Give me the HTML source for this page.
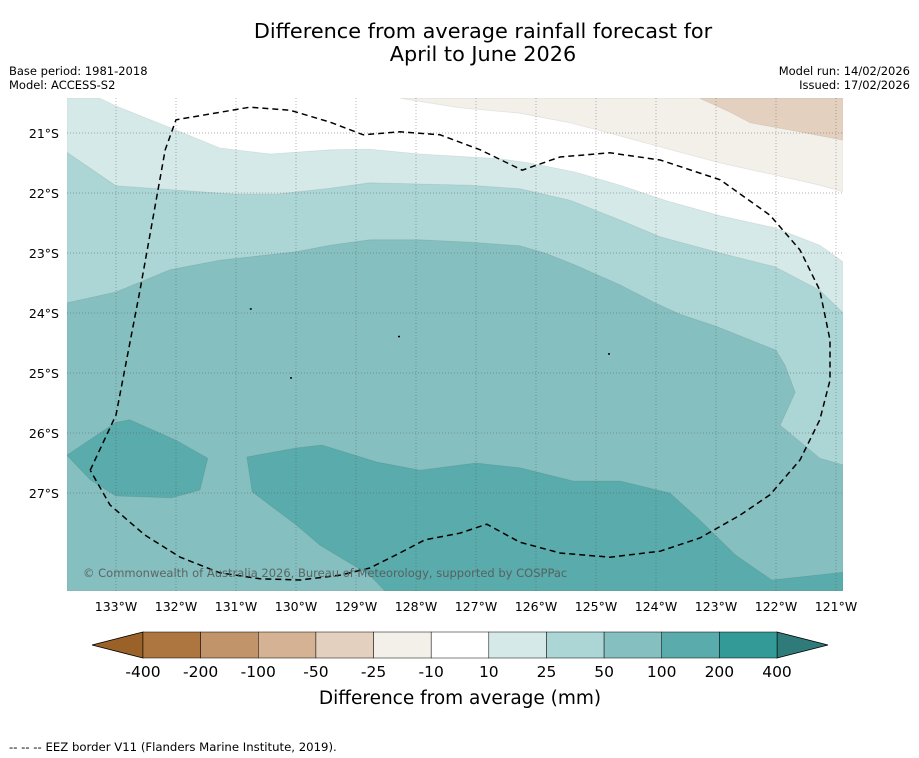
<!DOCTYPE html>
<html><head><meta charset="utf-8">
<style>
body{margin:0;background:#fff;width:919px;height:758px;overflow:hidden;font-family:"DejaVu Sans","Liberation Sans",sans-serif;}
svg{display:block}
</style></head>
<body>
<svg id="chart" width="919" height="758" viewBox="0 0 919 758" xmlns="http://www.w3.org/2000/svg" font-family="DejaVu Sans, Liberation Sans, sans-serif">
<text x="483" y="38" font-size="20.8" text-anchor="middle">Difference from average rainfall forecast for</text>
<text x="483" y="61" font-size="20.8" text-anchor="middle">April to June 2026</text>
<text x="9" y="75" font-size="11.5">Base period: 1981-2018</text>
<text x="9" y="89" font-size="11.5">Model: ACCESS-S2</text>
<text x="910" y="75" font-size="11.5" text-anchor="end">Model run: 14/02/2026</text>
<text x="910" y="89" font-size="11.5" text-anchor="end">Issued: 17/02/2026</text>
<defs><clipPath id="mapclip"><rect x="67" y="98" width="776" height="493"/></clipPath></defs>
<g id="map" clip-path="url(#mapclip)">
<rect x="67" y="98" width="776" height="493" fill="#ffffff"/>
</g>
<g id="axes"></g>
<g id="cbar"></g>
<text x="460" y="704" font-size="18.5" text-anchor="middle">Difference from average (mm)</text>
<text x="9" y="751" font-size="11.7">--  --  -- EEZ border V11 (Flanders Marine Institute, 2019).</text>
</svg>
<script>
// Longitude in degrees W, latitude in degrees S
const lonTicks = [133,132,131,130,129,128,127,126,125,124,123,122,121];
const latTicks = [21,22,23,24,25,26,27];
const cbarLevels = ["-400","-200","-100","-50","-25","-10","10","25","50","100","200","400"];
const cbarColors = ["#ad7640","#c1946a","#d4b293","#e4d0be","#f3efe9","#ffffff","#d5e9e8","#acd5d5","#85bfbf","#5aabab","#339a98"];

const contour10 = [[133.82,20.42],[133.27,20.42],[133,20.55],[132,20.95],[131.27,21.25],[130.43,21.35],[129.43,21.28],[128.77,21.27],[127.93,21.35],[126.6,21.43],[126.1,21.5],[125.35,21.65],[124.6,21.87],[123.85,22.12],[122.93,22.38],[122.02,22.58],[121.27,22.87],[120.88,23.15],[120.88,28.63],[133.82,28.63]];
const contour25 = [[133.82,21.32],[133,21.88],[132,21.95],[131,22.02],[130.33,22.02],[129.43,21.92],[128.77,21.83],[127.93,21.85],[127.1,21.87],[126.27,21.93],[125.43,22.12],[124.6,22.45],[123.93,22.73],[122.93,23],[122.02,23.23],[121.27,23.62],[120.88,24],[120.88,28.63],[133.82,28.63]];
const contour50 = [[133.82,23.83],[133,23.65],[132.1,23.28],[131.27,23.12],[130,22.98],[129.43,22.87],[128.77,22.78],[127.93,22.78],[127.1,22.82],[126.27,22.88],[125.85,23],[125.35,23.2],[124.6,23.53],[124.02,23.83],[123.6,24.02],[123,24.22],[122,24.62],[121.85,24.87],[121.68,25.32],[121.93,25.87],[121.27,26.42],[120.88,26.53],[120.88,28.63],[133.82,28.63]];
const contour100a = [[133.82,26.37],[133,25.82],[132.77,25.78],[132,26.12],[131.47,26.42],[131.6,26.95],[132.07,27.08],[133,27.05],[133.43,26.78]];
const contour100b = [[130.82,26.4],[130,26.25],[129.57,26.2],[128.67,26.48],[127.93,26.62],[127,26.5],[126.27,26.58],[125.38,26.8],[124.6,26.8],[123.77,27],[123.27,27.45],[122.68,28.03],[122.07,28.45],[120.88,28.32],[120.88,28.63],[128.52,28.63],[128.77,28.37],[129.6,27.87],[130,27.53],[130.73,26.98]];
const contourNeg10 = [[128.27,20.42],[127.27,20.58],[126.27,20.67],[125.43,20.83],[124.6,21.05],[123.6,21.32],[122.93,21.5],[122.02,21.7],[121.27,21.87],[120.88,21.98],[120.88,20.42]];
const contourNeg25 = [[123.27,20.42],[122.77,20.65],[122.43,20.83],[121.77,20.95],[120.88,21.12],[120.88,20.42]];
const eezBorder = [[133.43,26.62],[133,25.7],[132.6,23.62],[132.18,21.28],[132,20.78],[130.77,20.57],[130.1,20.62],[129.43,20.82],[128.88,21.03],[128.27,20.98],[127.6,21.03],[126.93,21.28],[126.23,21.62],[125.6,21.4],[124.77,21.33],[123.93,21.45],[122.93,21.78],[122.1,22.37],[121.6,22.95],[121.27,23.62],[121.1,24.45],[121.1,25.12],[121.27,25.78],[121.6,26.45],[122.1,27.03],[122.6,27.37],[123.27,27.75],[123.93,27.97],[124.77,28.07],[125.6,28],[126.27,27.82],[126.82,27.52],[127.27,27.67],[127.85,27.78],[128.27,28],[128.77,28.25],[129.27,28.37],[129.93,28.45],[130.6,28.43],[131.27,28.33],[131.93,28.07],[132.52,27.7],[133.1,27.2],[133.43,26.62]];
const islands = [[130.77,23.92],[128.3,24.38],[124.8,24.67],[130.1,25.07]];

const NS = "http://www.w3.org/2000/svg";
const xOf = lonW => 116 + (133 - lonW) * 60;
const yOf = latS => 133 + (latS - 21) * 60;
const pts = arr => arr.map(p => xOf(p[0]).toFixed(1) + "," + yOf(p[1]).toFixed(1)).join(" ");
const map = document.getElementById("map");
function poly(arr, fill, name) {
  const el = document.createElementNS(NS, "polygon");
  el.setAttribute("points", pts(arr));
  el.setAttribute("fill", fill);
  el.setAttribute("stroke", "rgba(0,0,0,0.08)");
  el.setAttribute("stroke-width", "0.8");
  
  
  map.appendChild(el);
}
poly(contour10, "#d5e9e8", "contour-10-25");
poly(contour25, "#acd5d5", "contour-25-50");
poly(contour50, "#85bfbf", "contour-50-100");
poly(contour100a, "#5aabab", "contour-100-200-west");
poly(contour100b, "#5aabab", "contour-100-200-south");
poly(contourNeg10, "#f3efe9", "contour-neg10-neg25");
poly(contourNeg25, "#e4d0be", "contour-neg25-neg50");
islands.forEach(p => {
  const r = document.createElementNS(NS, "rect");
  r.setAttribute("x", xOf(p[0])); r.setAttribute("y", yOf(p[1]));
  r.setAttribute("width", 2); r.setAttribute("height", 1.5); r.setAttribute("fill", "#000");
  
  
  map.appendChild(r);
});
// gridlines
lonTicks.forEach(l => {
  const g = document.createElementNS(NS, "line");
  g.setAttribute("x1", xOf(l)); g.setAttribute("x2", xOf(l)); g.setAttribute("y1", 98); g.setAttribute("y2", 591);
  g.setAttribute("stroke", "#555"); g.setAttribute("stroke-opacity", "0.6"); g.setAttribute("stroke-width", "0.7"); g.setAttribute("stroke-dasharray", "1,2");
  
  
  map.appendChild(g);
});
latTicks.forEach(l => {
  const g = document.createElementNS(NS, "line");
  g.setAttribute("y1", yOf(l)); g.setAttribute("y2", yOf(l)); g.setAttribute("x1", 67); g.setAttribute("x2", 843);
  g.setAttribute("stroke", "#555"); g.setAttribute("stroke-opacity", "0.6"); g.setAttribute("stroke-width", "0.7"); g.setAttribute("stroke-dasharray", "1,2");
  
  
  map.appendChild(g);
});
const eez = document.createElementNS(NS, "polyline");
eez.setAttribute("points", pts(eezBorder));
eez.setAttribute("fill", "none"); eez.setAttribute("stroke", "#000"); eez.setAttribute("stroke-width", "1.5"); eez.setAttribute("stroke-dasharray", "6,4");


map.appendChild(eez);
const cr = document.createElementNS(NS, "text");
cr.setAttribute("x", 83); cr.setAttribute("y", 577); cr.setAttribute("font-size", "11.5"); cr.setAttribute("fill", "#555"); cr.setAttribute("fill-opacity", "0.85");
cr.textContent = "© Commonwealth of Australia 2026, Bureau of Meteorology, supported by COSPPac";


map.appendChild(cr);

const axes = document.getElementById("axes");
lonTicks.forEach(l => {
  const t = document.createElementNS(NS, "text");
  t.setAttribute("x", xOf(l)); t.setAttribute("y", 611); t.setAttribute("font-size", "12.5"); t.setAttribute("text-anchor", "middle");
  t.textContent = l + "°W";
  
  
  axes.appendChild(t);
});
latTicks.forEach(l => {
  const t = document.createElementNS(NS, "text");
  t.setAttribute("x", 59); t.setAttribute("y", yOf(l) + 5); t.setAttribute("font-size", "12.5"); t.setAttribute("text-anchor", "end");
  t.textContent = l + "°S";
  
  
  axes.appendChild(t);
});

// colorbar
const cb = document.getElementById("cbar");
const cx0 = 143, cx1 = 777, cy0 = 632, cy1 = 658;
const bw = (cx1 - cx0) / cbarColors.length;
const la = document.createElementNS(NS, "polygon");
la.setAttribute("points", `${cx0},${cy0} 92,${(cy0+cy1)/2} ${cx0},${cy1}`);
la.setAttribute("fill", "#9a6228"); la.setAttribute("stroke", "#000"); la.setAttribute("stroke-width", "0.8");


cb.appendChild(la);
const ra = document.createElementNS(NS, "polygon");
ra.setAttribute("points", `${cx1},${cy0} 828,${(cy0+cy1)/2} ${cx1},${cy1}`);
ra.setAttribute("fill", "#2e7b79"); ra.setAttribute("stroke", "#000"); ra.setAttribute("stroke-width", "0.8");


cb.appendChild(ra);
cbarColors.forEach((c, i) => {
  const r = document.createElementNS(NS, "rect");
  r.setAttribute("x", cx0 + i * bw); r.setAttribute("y", cy0); r.setAttribute("width", bw); r.setAttribute("height", cy1 - cy0);
  r.setAttribute("fill", c); r.setAttribute("stroke", "#000"); r.setAttribute("stroke-width", "0.5");
  
  
  cb.appendChild(r);
});
cbarLevels.forEach((lab, i) => {
  const t = document.createElementNS(NS, "text");
  t.setAttribute("x", cx0 + i * bw); t.setAttribute("y", 677); t.setAttribute("font-size", "15.5"); t.setAttribute("text-anchor", "middle");
  t.textContent = lab;
  
  
  cb.appendChild(t);
});
</script>
</body></html>
